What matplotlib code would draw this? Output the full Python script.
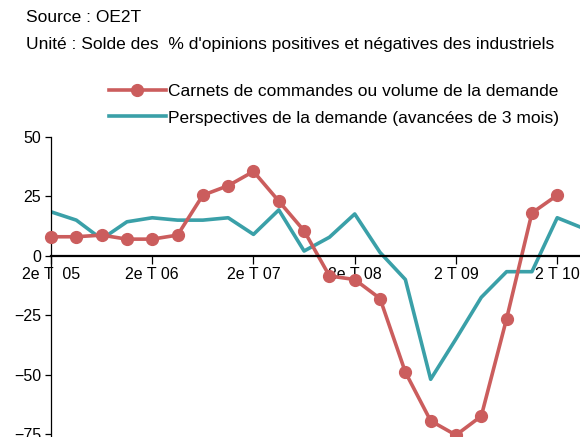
import numpy as np
import matplotlib.pyplot as plt

plt.rcParams['font.family'] = ['Liberation Sans', 'DejaVu Sans']

# quarterly balances, from 2e T 2005
carnets = [8, 8, 8.7, 7, 7, 8.7, 25.5, 29.5, 35.5, 23, 10.5, -8.5, -10,
           -18, -49, -69.5, -75.5, -67.5, -26.5, 18, 25.5]
perspectives = [18.5, 15, 7, 14.3, 16, 15, 15, 16, 9, 19.3, 2, 7.8, 17.6,
                1.4, -10, -52, -35, -17.5, -6.7, -6.7, 16, 11.7]
tick_pos = [0, 4, 8, 12, 16, 20]
tick_labels = ['2e T  05', '2e T 06', '2e T 07', '2e T 08', '2 T 09', '2 T 10']

red = '#CB5D5D'
teal = '#3AA0A8'

fig = plt.figure(figsize=(5.8, 4.37), dpi=100)
ax = fig.add_axes([51 / 580, 0, 1 - 51 / 580, 1 - 137 / 437])

ax.plot(np.arange(len(carnets)), carnets, color=red, lw=2.6, marker='o',
        ms=8.5, clip_on=False, zorder=3,
        label='Carnets de commandes ou volume de la demande')
ax.plot(np.arange(len(perspectives)), perspectives, color=teal, lw=2.6,
        zorder=2, label='Perspectives de la demande (avancées de 3 mois)')

ax.set_xlim(0, 20.9)
ax.set_ylim(-76.3, 50)
ax.set_yticks([50, 25, 0, -25, -50, -75])
ax.set_xticks(tick_pos)
ax.set_xticklabels(tick_labels)

ax.spines['top'].set_visible(False)
ax.spines['right'].set_visible(False)
ax.spines['bottom'].set_position(('data', 0))
ax.spines['bottom'].set_linewidth(1.6)
ax.spines['bottom'].set_zorder(4)
ax.spines['left'].set_linewidth(0.9)
ax.tick_params(axis='x', length=6, width=0.9, pad=2, labelsize=11.5)
ax.tick_params(axis='y', length=4, width=0.9, pad=3, labelsize=11.5)
for t in ax.get_xticklabels():
    t.set_zorder(5)

fig.text(26 / 580, 1 - 18 / 437, 'Source : OE2T', fontsize=12.5, va='center')
fig.text(26 / 580, 1 - 45 / 437,
         "Unité : Solde des  % d'opinions positives et négatives des industriels",
         fontsize=12.5, va='center')

fig.legend(loc='upper right', bbox_to_anchor=(0.975, 1 - 77 / 437), frameon=False,
           fontsize=12.5, handlelength=3.3, handletextpad=0.1,
           labelspacing=0.65, borderaxespad=0)

fig.savefig('out.png', dpi=100)
